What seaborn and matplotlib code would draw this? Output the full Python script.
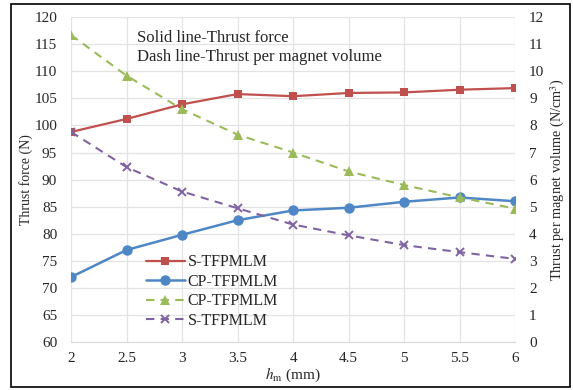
import matplotlib
matplotlib.use("Agg")
import matplotlib.pyplot as plt
import seaborn as sns
import pandas as pd
from matplotlib.patches import Rectangle

# magnet thickness hm (mm)
hm = [2, 2.5, 3, 3.5, 4, 4.5, 5, 5.5, 6]

# thrust force (N) - solid lines
s_force = [98.8, 101.2, 103.9, 105.8, 105.4, 106.0, 106.1, 106.6, 106.9]
cp_force = [72.0, 77.0, 79.8, 82.5, 84.3, 84.8, 85.9, 86.7, 86.0]

# thrust per magnet volume (N/cm^3) - dashed lines
cp_vol = [11.34, 9.84, 8.60, 7.66, 7.00, 6.30, 5.80, 5.34, 4.93]
s_vol = [7.76, 6.46, 5.56, 4.94, 4.34, 3.94, 3.58, 3.32, 3.07]

df_force = pd.DataFrame({'hm': hm, 'S': s_force, 'CP': cp_force})
df_vol = pd.DataFrame({'hm': hm, 'CP': cp_vol, 'S': s_vol})

sns.set_style("white")
plt.rcParams['font.family'] = ['Liberation Serif', 'DejaVu Serif']
plt.rcParams['mathtext.fontset'] = 'stix'

red = '#C0504D'
blue = '#4F86C6'
green = '#9BBB59'
purple = '#8064A2'

fig = plt.figure(figsize=(5.73, 3.9), dpi=100)
ax = fig.add_axes([0.124, 0.123, 0.775, 0.833])
ax2 = ax.twinx()

# solid lines, left axis
sns.lineplot(x='hm', y='S', data=df_force, ax=ax, color=red, marker='s',
             markersize=6, markeredgewidth=0, linewidth=1.6, label='S-TFPMLM')
sns.lineplot(x='hm', y='CP', data=df_force, ax=ax, color=blue, marker='o',
             markersize=7.5, markeredgewidth=0, linewidth=1.8, label='CP-TFPMLM')

# dash lines, right axis
sns.lineplot(x='hm', y='CP', data=df_vol, ax=ax2, color=green, marker='^',
             markersize=7, markeredgewidth=0, linewidth=1.5, label='CP-TFPMLM')
ax2.lines[-1].set_dashes([4, 3])
sns.lineplot(x='hm', y='S', data=df_vol, ax=ax2, color=purple, marker='x',
             markersize=6, markeredgewidth=1.4, markeredgecolor=purple,
             linewidth=1.5, label='S-TFPMLM')
ax2.lines[-1].set_dashes([4, 3])

ax.set_xlim(2, 6)
ax.set_ylim(60, 120)
ax.set_yticks(range(60, 121, 5))
ax.set_xticks(hm)
ax.set_xticklabels(['2', '2.5', '3', '3.5', '4', '4.5', '5', '5.5', '6'])
ax2.set_ylim(0, 12)
ax2.set_yticks(range(0, 13))

ax.grid(True, color='#e3e3e3', linewidth=0.9)
ax.set_axisbelow(True)
for a in (ax, ax2):
    for s in a.spines.values():
        s.set_visible(False)
    a.tick_params(axis='both', length=0, labelsize=11)
    a.tick_params(axis='y', pad=10)
ax.tick_params(axis='x', pad=7)
ax.spines['bottom'].set_visible(True)
ax.spines['bottom'].set_color('#d9d9d9')

ax.set_xlabel(r'$h_\mathrm{m}$ (mm)', fontsize=11, labelpad=1)
ax.set_ylabel('Thrust force (N)', fontsize=10, labelpad=1)
ax2.set_ylabel(r'Thrust per magnet volume (N/cm$^3$)', fontsize=10.3, labelpad=3)

# combined legend
h1, l1 = ax.get_legend_handles_labels()
h2, l2 = ax2.get_legend_handles_labels()
ax2.get_legend().remove()
leg = ax.legend(h1 + h2, l1 + l2, loc='upper left', bbox_to_anchor=(0.155, 0.29),
                frameon=False, fontsize=11.5, handlelength=2.4, handletextpad=0.2,
                labelspacing=0.22, borderaxespad=0)

ax.text(0.148, 0.96, 'Solid line-Thrust force\nDash line-Thrust per magnet volume',
        transform=ax.transAxes, fontsize=12, va='top', ha='left', linespacing=1.2)

# outer frame
fig.patches.append(Rectangle((0.019, 0.008), 0.976, 0.982, transform=fig.transFigure,
                             fill=False, edgecolor='black', linewidth=1.2))

fig.savefig('out.png', dpi=100)
